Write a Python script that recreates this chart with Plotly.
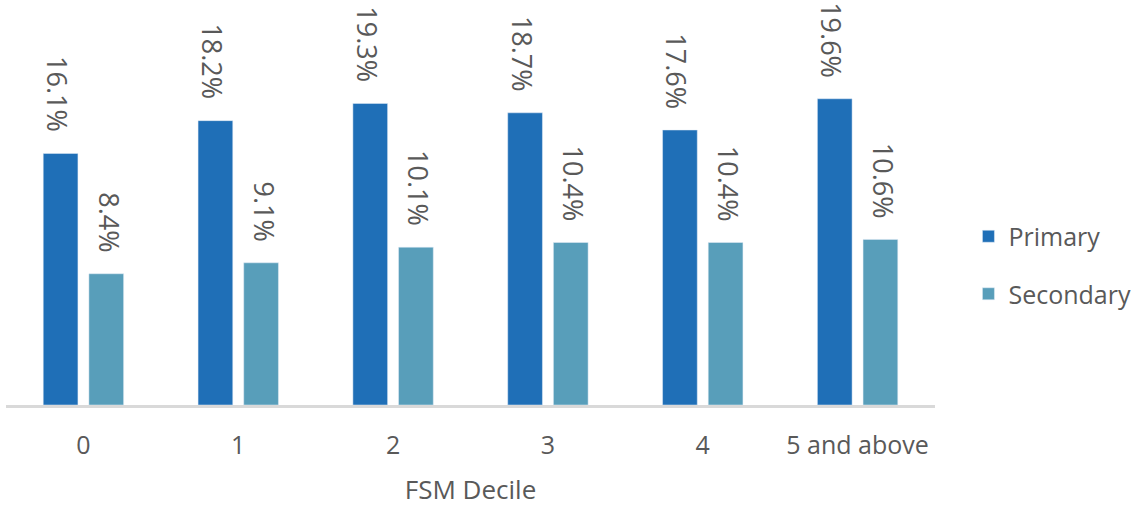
import plotly.graph_objects as go

deciles = ["0", "1", "2", "3", "4", "5 and above"]
primary = [16.1, 18.2, 19.3, 18.7, 17.6, 19.6]
secondary = [8.4, 9.1, 10.1, 10.4, 10.4, 10.6]

PRIMARY_COLOR = "#1F6FB7"
SECONDARY_COLOR = "#589EBA"
TEXT_COLOR = "#595959"
FONT = "Open Sans, Liberation Sans, sans-serif"

fig = go.Figure()
fig.add_trace(go.Bar(x=deciles, y=primary, name="Primary", marker_color=PRIMARY_COLOR,
                     legendgroup="p"))
fig.add_trace(go.Bar(x=deciles, y=secondary, name="Secondary", marker_color=SECONDARY_COLOR,
                     legendgroup="s"))

# Rotated value labels above each bar
offset_px = 26
for i, cat in enumerate(deciles):
    for val, shift in ((primary[i], -offset_px), (secondary[i], offset_px)):
        fig.add_annotation(x=cat, y=val, text=f"{val:.1f}%", textangle=90,
                           showarrow=False, xshift=shift, yshift=19, yanchor="bottom",
                           font=dict(size=27, color=TEXT_COLOR, family=FONT))

fig.update_layout(
    width=1141, height=507,
    margin=dict(l=6, r=206, t=5, b=102, autoexpand=False),
    paper_bgcolor="white", plot_bgcolor="white",
    barmode="group", bargap=0.41, bargroupgap=0.24,
    font=dict(family=FONT, color=TEXT_COLOR, size=25),
    legend=dict(x=1.036, xanchor="left", y=0.35, yanchor="middle", xref="paper",
                traceorder="grouped", tracegroupgap=22,
                font=dict(size=25, color=TEXT_COLOR), itemwidth=30),
    showlegend=True,
)
fig.update_xaxes(showline=True, linecolor="#D9D9D9", linewidth=3, ticks="",
                 ticklabelstandoff=16,
                 tickfont=dict(size=25, color=TEXT_COLOR),
                 title=dict(text="FSM Decile", font=dict(size=26, color=TEXT_COLOR), standoff=24))
fig.update_yaxes(range=[0, 25.6], visible=False, showgrid=False, zeroline=False)

fig.write_html("out.html")
